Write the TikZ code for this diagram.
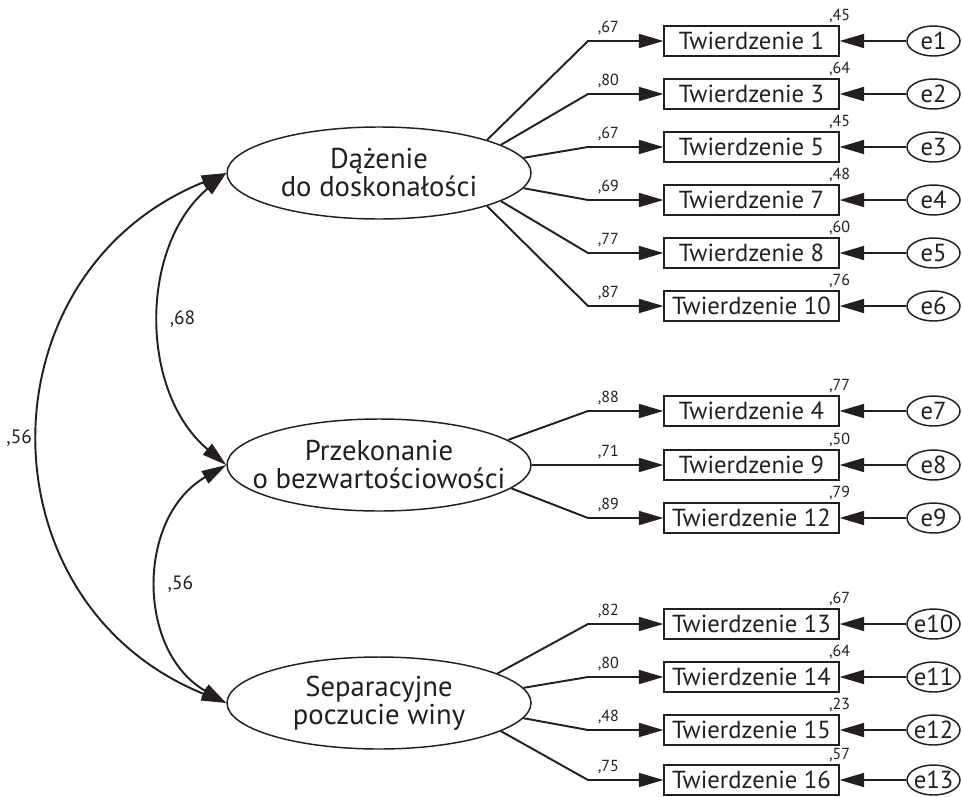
\documentclass[tikz,border=0pt]{standalone}
\usepackage{fontspec}
\setmainfont{PT Sans}
\usepackage{xcolor}
\usepackage{tikz}
\usetikzlibrary{arrows.meta,shapes.geometric}
\definecolor{ink}{HTML}{231F20}

\begin{document}
\begin{tikzpicture}[x=0.75pt,y=0.75pt,color=ink]
\tikzstyle{every node}+=[inner sep=0pt]
\tikzstyle{factor}=[draw,ellipse,line width=1.1pt,inner xsep=-20pt,minimum width=228pt,minimum height=69pt,align=center,font=\fontsize{21.5}{21}\selectfont]
\tikzstyle{item}=[draw,rectangle,line width=1.1pt,minimum width=131pt,minimum height=22.5pt,font=\fontsize{18.5}{19}\selectfont]
\tikzstyle{err}=[draw,ellipse,line width=1.1pt,inner xsep=-4pt,minimum width=39.75pt,minimum height=22.5pt,font=\fontsize{18.5}{19}\selectfont]
\tikzstyle{lbl}=[font=\fontsize{12}{13}\selectfont]
\tikzstyle{cov}=[font=\fontsize{14.5}{15}\selectfont]
\tikzstyle{arr}=[line width=1.45pt,-{Triangle[length=18.5pt,width=10.5pt]}]
\tikzstyle{arr2}=[line width=1.45pt,{Triangle[length=18.5pt,width=10.5pt]}-{Triangle[length=18.5pt,width=10.5pt]}]
\useasboundingbox (0,0) rectangle (962,-796);
\node[factor] (d1) at (379,-173) {Dążenie\\do doskonałości};
\node[factor] (d2) at (379,-465) {Przekonanie\\o bezwartościowości};
\node[factor] (d3) at (379,-703) {Separacyjne\\poczucie winy};
\coordinate (bx) at (588,0);
\node[item] (tw1) at (751.5,-41) {Twierdzenie 1};
\node[item] (tw3) at (751.5,-94) {Twierdzenie 3};
\node[item] (tw5) at (751.5,-147) {Twierdzenie 5};
\node[item] (tw7) at (751.5,-200) {Twierdzenie 7};
\node[item] (tw8) at (751.5,-253) {Twierdzenie 8};
\node[item] (tw10) at (751.5,-306) {Twierdzenie 10};
\node[item] (tw4) at (751.5,-411) {Twierdzenie 4};
\node[item] (tw9) at (751.5,-465) {Twierdzenie 9};
\node[item] (tw12) at (751.5,-518) {Twierdzenie 12};
\node[item] (tw13) at (751.5,-624) {Twierdzenie 13};
\node[item] (tw14) at (751.5,-677) {Twierdzenie 14};
\node[item] (tw15) at (751.5,-730) {Twierdzenie 15};
\node[item] (tw16) at (751.5,-780) {Twierdzenie 16};
\node[err] (e1) at (933.5,-41) {e1};
\node[err] (e2) at (933.5,-94) {e2};
\node[err] (e3) at (933.5,-147) {e3};
\node[err] (e4) at (933.5,-200) {e4};
\node[err] (e5) at (933.5,-253) {e5};
\node[err] (e6) at (933.5,-306) {e6};
\node[err] (e7) at (933.5,-411) {e7};
\node[err] (e8) at (933.5,-465) {e8};
\node[err] (e9) at (933.5,-518) {e9};
\node[err] (e10) at (933.5,-624) {e10};
\node[err] (e11) at (933.5,-677) {e11};
\node[err] (e12) at (933.5,-730) {e12};
\node[err] (e13) at (933.5,-780) {e13};
\node[lbl,above=1.5pt] (r1) at (tw1.north east) {,45};
\node[lbl,above=1.5pt] (r3) at (tw3.north east) {,64};
\node[lbl,above=1.5pt] (r5) at (tw5.north east) {,45};
\node[lbl,above=1.5pt] (r7) at (tw7.north east) {,48};
\node[lbl,above=1.5pt] (r8) at (tw8.north east) {,60};
\node[lbl,above=1.5pt] (r10) at (tw10.north east) {,76};
\node[lbl,above=1.5pt] (r4) at (tw4.north east) {,77};
\node[lbl,above=1.5pt] (r9) at (tw9.north east) {,50};
\node[lbl,above=1.5pt] (r12) at (tw12.north east) {,79};
\node[lbl,above=1.5pt] (r13) at (tw13.north east) {,67};
\node[lbl,above=1.5pt] (r14) at (tw14.north east) {,64};
\node[lbl,above=1.5pt] (r15) at (tw15.north east) {,23};
\node[lbl,above=1.5pt] (r16) at (tw16.north east) {,57};
\draw[arr] (d1.17) -- (bx |- tw1) -- node[lbl,pos=.27,above=4pt]{,67} (tw1);
\draw[arr] (d1.13) -- (bx |- tw3) -- node[lbl,pos=.27,above=4pt]{,80} (tw3);
\draw[arr] (d1.6) -- (bx |- tw5) -- node[lbl,pos=.27,above=4pt]{,67} (tw5);
\draw[arr] (d1.-6) -- (bx |- tw7) -- node[lbl,pos=.27,above=4pt]{,69} (tw7);
\draw[arr] (d1.-13) -- (bx |- tw8) -- node[lbl,pos=.27,above=4pt]{,77} (tw8);
\draw[arr] (d1.-17) -- (bx |- tw10) -- node[lbl,pos=.27,above=4pt]{,87} (tw10);
\draw[arr] (d2.11) -- (bx |- tw4) -- node[lbl,pos=.27,above=4pt]{,88} (tw4);
\draw[arr] (d2.0) -- (bx |- tw9) -- node[lbl,pos=.27,above=4pt]{,71} (tw9);
\draw[arr] (d2.-10) -- (bx |- tw12) -- node[lbl,pos=.27,above=4pt]{,89} (tw12);
\draw[arr] (d3.14) -- (bx |- tw13) -- node[lbl,pos=.27,above=4pt]{,82} (tw13);
\draw[arr] (d3.6) -- (bx |- tw14) -- node[lbl,pos=.27,above=4pt]{,80} (tw14);
\draw[arr] (d3.-6) -- (bx |- tw15) -- node[lbl,pos=.27,above=4pt]{,48} (tw15);
\draw[arr] (d3.-13) -- (bx |- tw16) -- node[lbl,pos=.27,above=4pt]{,75} (tw16);
\draw[arr] (e1) -- (tw1);
\draw[arr] (e2) -- (tw3);
\draw[arr] (e3) -- (tw5);
\draw[arr] (e4) -- (tw7);
\draw[arr] (e5) -- (tw8);
\draw[arr] (e6) -- (tw10);
\draw[arr] (e7) -- (tw4);
\draw[arr] (e8) -- (tw9);
\draw[arr] (e9) -- (tw12);
\draw[arr] (e10) -- (tw13);
\draw[arr] (e11) -- (tw14);
\draw[arr] (e12) -- (tw15);
\draw[arr] (e13) -- (tw16);
\draw[arr2] (d1.west) to[out=220,in=140] node[cov,right=6pt]{,68} (d2.west);
\draw[arr2] (d2.west) to[out=210,in=150,looseness=1.12] node[cov,right=6pt]{,56} (d3.west);
\draw[arr2] (d1.west) to[out=202,in=158,looseness=1.29] node[cov,left=6pt]{,56} (d3.west);
\end{tikzpicture}
\end{document}
